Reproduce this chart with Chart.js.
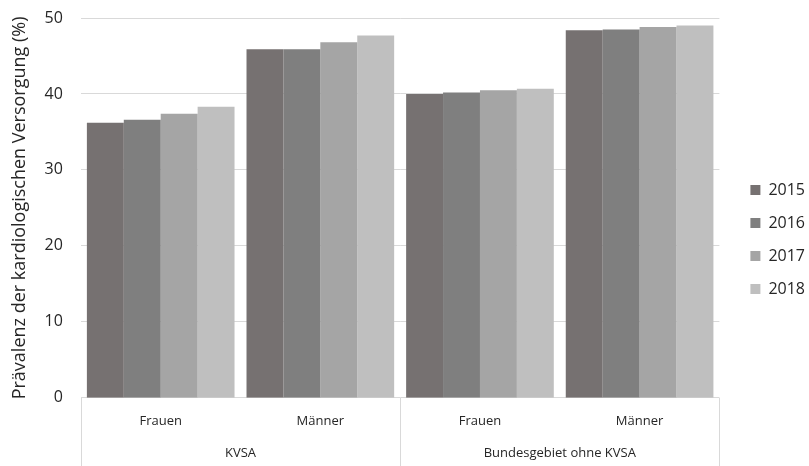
<!DOCTYPE html>
<html>
<head>
<meta charset="utf-8">
<script src="https://cdn.jsdelivr.net/npm/chart.js@4"></script>
<style>
    html, body { margin: 0; padding: 0; background: #fff; }
    #wrap { width: 809px; height: 466px; }
</style>
</head>
<body>
<div id="wrap"><canvas id="chart" width="809" height="466"></canvas></div>
<script>
// Data
const subLabels = ['Frauen', 'Männer', 'Frauen', 'Männer'];
const groupLabels = ['KVSA', 'Bundesgebiet ohne KVSA'];
const years = ['2015', '2016', '2017', '2018'];
const values2015 = [36.2, 45.9, 40.0, 48.4];
const values2016 = [36.6, 45.9, 40.2, 48.5];
const values2017 = [37.4, 46.8, 40.5, 48.8];
const values2018 = [38.3, 47.7, 40.7, 49.0];
const yTicks = [0, 10, 20, 30, 40, 50];

const colors = ['#767171', '#7f7f7f', '#a5a5a5', '#bfbfbf'];
const fontFamily = '"Open Sans", "Noto Sans", sans-serif';
const textColor = '#262626';
const lineColor = '#d9d9d9';

// Separator lines under the chart area (multi-level axis)
const groupLines = {
    id: 'groupLines',
    afterDraw(chart) {
        const x = chart.scales.x;
        const area = chart.chartArea;
        const mid = (x.getPixelForTick(1) + x.getPixelForTick(2)) / 2;
        const ctx = chart.ctx;
        ctx.save();
        ctx.strokeStyle = lineColor;
        ctx.lineWidth = 1;
        [area.left, mid, area.right].forEach(px => {
            const p = Math.round(px) + 0.5;
            ctx.beginPath();
            ctx.moveTo(p, area.bottom);
            ctx.lineTo(p, chart.height);
            ctx.stroke();
        });
        ctx.restore();
    }
};

const datasets = [values2015, values2016, values2017, values2018].map((data, i) => ({
    label: years[i],
    data,
    backgroundColor: colors[i],
    borderWidth: 0,
    categoryPercentage: 0.925,
    barPercentage: 1.0,
    xAxisID: 'x'
}));

new Chart(document.getElementById('chart'), {
    type: 'bar',
    data: { labels: subLabels, datasets },
    options: {
        responsive: false,
        animation: false,
        layout: { padding: { top: 18, right: -6, bottom: 5, left: 9 } },
        plugins: {
            legend: {
                position: 'right',
                labels: {
                    boxWidth: 10,
                    boxHeight: 10,
                    padding: 17,
                    color: textColor,
                    font: { family: fontFamily, size: 16 }
                }
            },
            tooltip: { enabled: false }
        },
        scales: {
            x: {
                position: 'bottom',
                grid: { display: false, drawTicks: false },
                border: { display: false },
                ticks: {
                    padding: 16,
                    color: textColor,
                    font: { family: fontFamily, size: 13 }
                }
            },
            x2: {
                type: 'category',
                position: 'bottom',
                labels: groupLabels,
                offset: true,
                grid: { display: false, drawTicks: false },
                border: { display: false },
                ticks: {
                    padding: 0,
                    color: textColor,
                    font: { family: fontFamily, size: 13 }
                }
            },
            // empty spacer between plot and legend
            spacer: {
                type: 'linear',
                position: 'right',
                display: true,
                grid: { display: false, drawTicks: false },
                border: { display: false },
                ticks: { display: false },
                afterFit(axis) { axis.width = 14; }
            },
            y: {
                min: 0,
                max: 50,
                afterBuildTicks(axis) {
                    axis.ticks = yTicks.map(v => ({ value: v }));
                },
                grid: { color: lineColor, drawTicks: true, tickLength: 18, tickColor: 'rgba(0,0,0,0)' },
                border: { display: false },
                ticks: {
                    padding: 0,
                    color: textColor,
                    font: { family: fontFamily, size: 16 }
                },
                title: {
                    display: true,
                    text: 'Prävalenz der kardiologischen Versorgung (%)',
                    color: textColor,
                    padding: { top: 0, bottom: 14 },
                    font: { family: fontFamily, size: 18 }
                }
            }
        }
    },
    plugins: [groupLines]
});
</script>
</body>
</html>
